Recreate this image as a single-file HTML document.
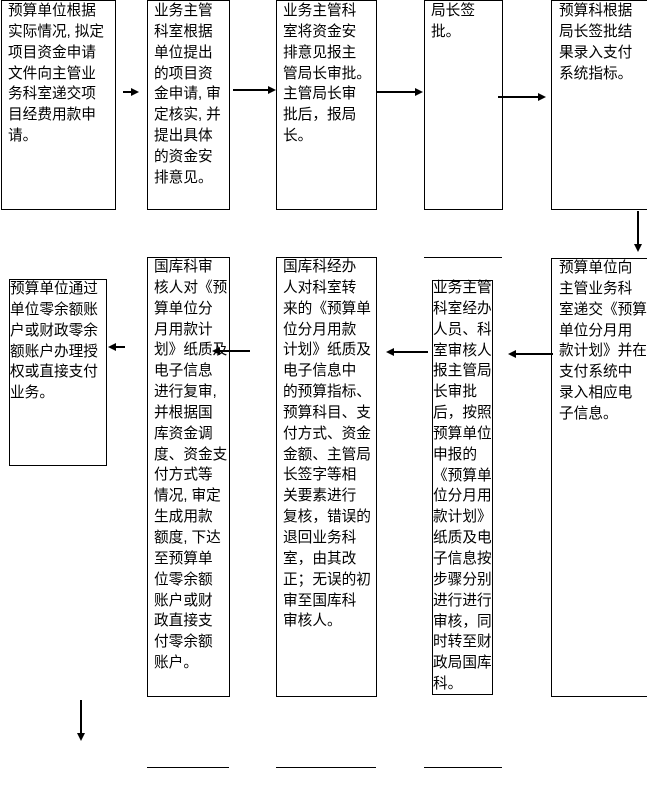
<!DOCTYPE html>
<html>
<head>
<meta charset="utf-8">
<style>
  html,body{margin:0;padding:0;background:#fff;}
  body{width:647px;height:787px;position:relative;overflow:hidden;
    font-family:"Liberation Sans","Noto Sans CJK SC",sans-serif;font-size:14.67px;color:#000;}
  .b{position:absolute;box-sizing:border-box;border:1px solid #000;background:#fff;}
  .nr{border-right:none;}
  .t{position:absolute;white-space:nowrap;line-height:20.85px;}
  svg{position:absolute;left:0;top:0;}
</style>
</head>
<body>
<!-- top row boxes -->
<div class="b" style="left:1px;top:0;width:115px;height:210px;"></div>
<div class="b" style="left:147px;top:0;width:83px;height:210px;"></div>
<div class="b" style="left:276px;top:0;width:101px;height:210px;"></div>
<div class="b" style="left:424px;top:0;width:79px;height:210px;"></div>
<div class="b nr" style="left:551px;top:0;width:100px;height:210px;"></div>

<!-- bottom row boxes -->
<div class="b" style="left:9px;top:279px;width:98px;height:187px;"></div>
<div class="b" style="left:147px;top:257px;width:83px;height:440px;"></div>
<div class="b" style="left:276px;top:257px;width:101px;height:440px;"></div>
<div class="b" style="left:432px;top:280px;width:61px;height:415px;"></div>
<div class="b nr" style="left:551px;top:258px;width:100px;height:439px;"></div>

<!-- texts top row -->
<div class="t" style="left:8px;top:1px;">预算单位根据<br>实际情况, 拟定<br>项目资金申请<br>文件向主管业<br>务科室递交项<br>目经费用款申<br>请。</div>
<div class="t" style="left:154px;top:1px;">业务主管<br>科室根据<br>单位提出<br>的项目资<br>金申请, 审<br>定核实, 并<br>提出具体<br>的资金安<br>排意见。</div>
<div class="t" style="left:283px;top:1px;">业务主管科<br>室将资金安<br>排意见报主<br>管局长审批。<br>主管局长审<br>批后，报局<br>长。</div>
<div class="t" style="left:431px;top:1px;">局长签<br>批。</div>
<div class="t" style="left:559px;top:1px;">预算科根据<br>局长签批结<br>果录入支付<br>系统指标。</div>

<!-- texts bottom row -->
<div class="t" style="left:10px;top:279px;">预算单位通过<br>单位零余额账<br>户或财政零余<br>额账户办理授<br>权或直接支付<br>业务。</div>
<div class="t" style="left:154px;top:257px;">国库科审<br>核人对《预<br>算单位分<br>月用款计<br>划》纸质及<br>电子信息<br>进行复审,<br>并根据国<br>库资金调<br>度、资金支<br>付方式等<br>情况, 审定<br>生成用款<br>额度, 下达<br>至预算单<br>位零余额<br>账户或财<br>政直接支<br>付零余额<br>账户。</div>
<div class="t" style="left:283px;top:257px;">国库科经办<br>人对科室转<br>来的《预算单<br>位分月用款<br>计划》纸质及<br>电子信息中<br>的预算指标、<br>预算科目、支<br>付方式、资金<br>金额、主管局<br>长签字等相<br>关要素进行<br>复核，错误的<br>退回业务科<br>室，由其改<br>正；无误的初<br>审至国库科<br>审核人。</div>
<div class="t" style="left:433px;top:278px;">业务主管<br>科室经办<br>人员、科<br>室审核人<br>报主管局<br>长审批<br>后，按照<br>预算单位<br>申报的<br>《预算单<br>位分月用<br>款计划》<br>纸质及电<br>子信息按<br>步骤分别<br>进行进行<br>审核，同<br>时转至财<br>政局国库<br>科。</div>
<div class="t" style="left:559px;top:258px;">预算单位向<br>主管业务科<br>室递交《预算<br>单位分月用<br>款计划》并在<br>支付系统中<br>录入相应电<br>子信息。</div>

<svg width="647" height="787" viewBox="0 0 647 787">
  <g stroke="#000" stroke-width="2" fill="none">
    <line x1="123" y1="92" x2="132" y2="92"/>
    <line x1="233" y1="90" x2="269" y2="90"/>
    <line x1="377" y1="92" x2="416" y2="92"/>
    <line x1="498" y1="97" x2="539" y2="97"/>
    <line x1="638" y1="211" x2="638" y2="245"/>
    <line x1="553" y1="354" x2="515" y2="354"/>
    <line x1="428" y1="352" x2="393" y2="352"/>
    <line x1="250" y1="351" x2="219" y2="351"/>
    <line x1="125" y1="347" x2="115" y2="347"/>
    <line x1="81" y1="700" x2="81" y2="734"/>
  </g>
  <g fill="#000">
    <polygon points="131,88 139,92 131,96"/>
    <polygon points="268,86 276,90 268,94"/>
    <polygon points="415,88 423,92 415,96"/>
    <polygon points="538,93 546,97 538,101"/>
    <polygon points="634,244 638,252 642,244"/>
    <polygon points="516,350 508,354 516,358"/>
    <polygon points="394,348 386,352 394,356"/>
    <polygon points="220,347 212,351 220,355"/>
    <polygon points="116,343 108,347 116,351"/>
    <polygon points="77,733 81,741 85,733"/>
  </g>
  <g stroke="#000" stroke-width="1">
    <line x1="424" y1="257.5" x2="502" y2="257.5"/>
    <line x1="147" y1="767.5" x2="229" y2="767.5"/>
    <line x1="276" y1="767.5" x2="376" y2="767.5"/>
    <line x1="424" y1="767.5" x2="502" y2="767.5"/>
  </g>
</svg>
</body>
</html>
